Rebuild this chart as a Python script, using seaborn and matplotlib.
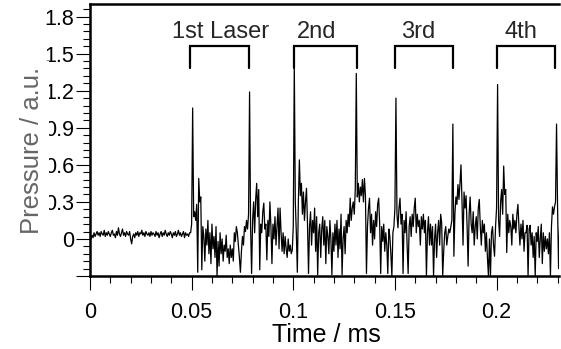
import numpy as np
import pandas as pd
import matplotlib
matplotlib.use("Agg")
import matplotlib.pyplot as plt
import seaborn as sns
from matplotlib.ticker import MultipleLocator, FixedLocator

# trace sampled every 0.0005 ms
dt = 0.0005

# pre-trigger baseline, t = 0 ... 0.049 ms
base_p = [
    -0.02, 0.00, 0.03, 0.01, 0.05, 0.02, 0.04, 0.06, 0.03, 0.05,
    0.02, 0.06, 0.04, 0.03, 0.07, 0.02, 0.05, 0.03, 0.06, 0.04,
    0.02, 0.05, 0.07, 0.03, 0.04, 0.01, 0.06, 0.03, 0.09, 0.04,
    0.02, 0.05, 0.08, 0.03, 0.05, 0.02, 0.06, 0.04, 0.03, 0.06,
    0.00, -0.04, 0.02, 0.04, 0.01, 0.05, 0.03, 0.06, 0.02, 0.05,
    0.04, 0.07, 0.03, 0.05, 0.02, 0.06, 0.04, 0.03, 0.05, 0.02,
    0.06, 0.03, 0.05, 0.04, 0.02, 0.06, 0.03, 0.05, 0.01, 0.04,
    0.06, 0.02, 0.05, 0.03, 0.07, 0.04, 0.02, 0.05, 0.03, 0.06,
    0.04, 0.01, 0.05, 0.03, 0.06, 0.02, 0.04, 0.07, 0.03, 0.05,
    0.02, 0.04, 0.06, 0.01, 0.05, 0.03, 0.04, 0.02, 0.05,
]

# laser-on part, t = 0.0495 ms onwards
pulse_p = [
    0.05, 0.12, 1.06, 0.18, 0.22, 0.15, 0.28, -0.27, 0.49, 0.30,
    0.34, -0.25, 0.10, 0.02, -0.18, 0.08, -0.05, 0.15, -0.12, 0.05,
    -0.20, 0.12, -0.08, 0.02, -0.15, 0.10, -0.30, -0.02, -0.22, 0.05,
    -0.12, 0.00, -0.18, -0.05, -0.10, 0.03, -0.15, -0.08, -0.20, -0.05,
    -0.15, -0.08, -0.18, 0.05, -0.02, 0.10, 0.05, -0.05, -0.15, -0.27,
    -0.10, 0.02, -0.05, 0.10, 0.06, 0.15, 0.08, 0.20, 1.19, 0.10,
    -0.28, 0.15, 0.30, 0.05, 0.32, 0.45, 0.18, 0.40, -0.25, 0.12,
    0.05, 0.22, 0.29, 0.08, 0.12, -0.17, 0.15, 0.02, 0.30, 0.10,
    -0.20, 0.12, 0.00, 0.18, -0.05, 0.10, 0.25, -0.08, 0.25, 0.05,
    -0.10, 0.05, -0.12, 0.02, -0.08, -0.15, 0.00, -0.10, -0.05, -0.12,
    -0.09, 0.10, 1.42, 0.30, 0.05, -0.27, 0.30, 0.64, 0.35, 0.45,
    0.20, 0.38, 0.15, 0.30, 0.41, 0.12, -0.28, 0.10, 0.22, -0.05,
    0.15, 0.05, 0.25, -0.10, 0.18, -0.29, 0.05, 0.12, -0.15, 0.08,
    0.18, -0.05, 0.15, -0.20, 0.10, 0.02, -0.12, 0.15, 0.00, -0.29,
    0.05, -0.10, 0.12, -0.05, 0.15, -0.15, 0.08, -0.08, 0.20, -0.29,
    0.00, 0.10, -0.12, 0.15, 0.05, 0.20, 0.10, 0.33, 0.15, 0.25,
    0.30, 0.20, 0.40, 1.34, 0.34, 0.45, 0.30, 0.42, 0.35, 0.48,
    0.30, 0.49, 0.35, -0.28, 0.10, 0.25, 0.33, 0.05, 0.20, -0.05,
    0.15, 0.00, 0.22, 0.10, 0.28, 0.33, 0.12, -0.28, 0.10, -0.02,
    0.12, -0.10, 0.05, -0.05, -0.28, 0.08, 0.02, -0.12, -0.30, 0.05,
    0.10, 0.25, 1.14, 0.20, 0.09, 0.25, 0.33, 0.12, 0.20, -0.28,
    0.15, 0.05, 0.22, -0.05, -0.28, 0.10, 0.18, 0.02, 0.20, 0.10,
    0.25, 0.33, 0.05, 0.20, 0.10, 0.15, -0.05, 0.18, 0.08, 0.20,
    0.05, 0.15, -0.30, 0.05, 0.18, -0.05, 0.12, -0.05, 0.10, -0.30,
    0.00, 0.12, -0.15, 0.05, 0.15, -0.05, 0.20, 0.13, -0.30, -0.10,
    0.05, 0.10, -0.05, 0.02, 0.08, 0.05, 0.10, 0.15, 0.93, -0.14,
    0.20, 0.34, 0.28, 0.44, 0.32, 0.45, 0.60, 0.30, -0.05, 0.38,
    0.25, 0.35, 0.10, -0.22, 0.20, 0.34, 0.12, 0.05, 0.22, -0.05,
    0.10, 0.18, 0.00, 0.25, 0.32, 0.10, -0.05, 0.15, 0.05, 0.12,
    -0.10, 0.05, -0.15, -0.30, 0.00, -0.30, 0.05, 0.10, -0.05, -0.14,
    0.10, 0.25, 1.25, 0.15, 0.02, 0.30, 0.40, 0.20, 0.59, 0.36,
    0.40, -0.11, 0.20, 0.05, 0.15, 0.10, -0.05, 0.20, 0.08, 0.15,
    0.05, 0.20, 0.28, 0.10, -0.05, 0.12, 0.00, 0.15, -0.10, 0.05,
    0.05, 0.11, -0.30, 0.08, 0.11, -0.05, 0.05, -0.15, 0.02, -0.30,
    0.05, -0.02, 0.10, -0.15, 0.00, 0.12, -0.20, 0.05, -0.10, 0.02,
    -0.08, 0.00, -0.12, 0.05, -0.30, 0.10, 0.26, 0.20, 0.26, 0.30,
    0.93, 0.26, -0.24, 0.10,
]

# laser pulse windows (ms) and their labels
pulse_start = [0.0492, 0.1005, 0.1500, 0.2001]
pulse_end = [0.0784, 0.1312, 0.1788, 0.2288]
pulse_labels = ["1st Laser", "2nd", "3rd", "4th"]
label_x = [0.0640, 0.1117, 0.1614, 0.2121]

x_ticks = [0, 0.05, 0.1, 0.15, 0.2]
x_ticklabels = ["0", "0.05", "0.1", "0.15", "0.2"]
y_ticks = [-0.3, 0, 0.3, 0.6, 0.9, 1.2, 1.5, 1.8]
y_ticklabels = ["", "0", "0.3", "0.6", "0.9", "1.2", "1.5", "1.8"]

pressure = np.array(base_p + pulse_p)
df = pd.DataFrame({"time": dt * np.arange(len(pressure)), "pressure": pressure})

sns.set_style("ticks")
plt.rcParams["font.family"] = ["Liberation Sans", "DejaVu Sans"]

fig = plt.figure(figsize=(5.61, 3.49), dpi=100)
ax = fig.add_axes([0.1604, 0.2092, 0.836, 0.7793])

sns.lineplot(data=df, x="time", y="pressure", color="black", lw=0.9,
             estimator=None, ax=ax)

# brackets marking each laser pulse
br_low, br_top = 1.387, 1.56
for x0, x1 in zip(pulse_start, pulse_end):
    ax.plot([x0, x0, x1, x1], [br_low, br_top, br_top, br_low],
            color="black", lw=1.6, solid_joinstyle="miter")
for lx, lab in zip(label_x, pulse_labels):
    ax.text(lx, 1.63, lab, ha="center", va="baseline", fontsize=17)

ax.set_xlim(0, 0.2307)
ax.set_ylim(-0.3, 1.902)

ax.xaxis.set_major_locator(FixedLocator(x_ticks))
ax.set_xticklabels(x_ticklabels)
ax.xaxis.set_minor_locator(MultipleLocator(0.01))
ax.yaxis.set_major_locator(FixedLocator(y_ticks))
ax.set_yticklabels(y_ticklabels)
ax.yaxis.set_minor_locator(MultipleLocator(0.06))

ax.tick_params(which="major", length=10, width=0.8, color="black",
               labelsize=15.5, labelcolor="black")
ax.tick_params(which="minor", length=5, width=0.8, color="black")
ax.tick_params(axis="x", which="major", pad=9)
ax.tick_params(axis="y", which="major", pad=1.5)

for side in ["left", "bottom", "top"]:
    ax.spines[side].set_linewidth(1.8)
    ax.spines[side].set_color("black")
ax.spines["right"].set_visible(False)

ax.set_xlabel("Time / ms", fontsize=18, color="black")
ax.set_ylabel("Pressure / a.u.", fontsize=18.5, color="#666666",
              bbox=dict(facecolor="white", edgecolor="none", pad=4))
ax.xaxis.set_label_coords(0.503, -0.172)
ax.yaxis.set_label_coords(-0.099, 0.463)

fig.savefig("out.png", dpi=100)
